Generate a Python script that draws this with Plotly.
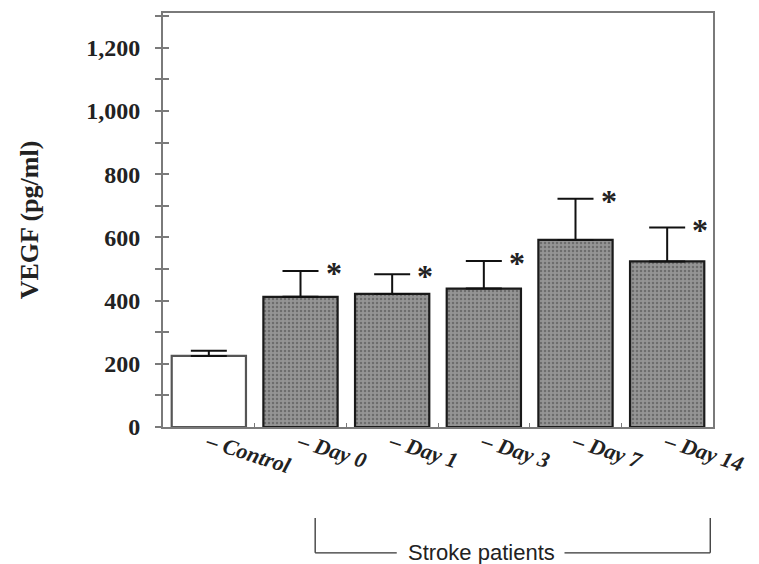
import plotly.graph_objects as go

# ---------- data ----------
groups = ["Control", "Day 0", "Day 1", "Day 3", "Day 7", "Day 14"]
vegf_mean = [225, 412, 421, 438, 592, 524]
vegf_sd = [16, 82, 62, 87, 130, 107]
significant = [False, True, True, True, True, True]
y_ticks = [0, 200, 400, 600, 800, 1000, 1200]

SERIF = "Liberation Serif"
SANS = "Liberation Sans"
AXIS_GRAY = "#7a7a7a"

fill = ["white" if g == "Control" else "#959595" for g in groups]
pattern = ["" if g == "Control" else "." for g in groups]
edge = ["#555555" if g == "Control" else "#1a1a1a" for g in groups]

fig = go.Figure()
fig.add_trace(go.Bar(
    x=groups, y=vegf_mean,
    marker=dict(color=fill,
                line=dict(color=edge, width=2.2),
                pattern=dict(shape=pattern, fgcolor="#b9b9b9", size=4, solidity=0.3)),
    error_y=dict(type="data", array=vegf_sd, arrayminus=[0] * len(groups),
                 symmetric=False, color="#111111", thickness=2, width=18),
    showlegend=False,
))

# asterisks above the error bars
for g, m, s, sig in zip(groups, vegf_mean, vegf_sd, significant):
    if sig:
        fig.add_annotation(x=g, y=m + s, text="<b>*</b>", showarrow=False,
                           xshift=33, yshift=-2, yanchor="middle",
                           font=dict(family=SERIF, size=32, color="#222"))

# "Stroke patients" bracket
br = dict(color="#333", width=1.3)
fig.add_shape(type="line", xref="x", yref="paper", x0=1.16, x1=1.16, y0=-0.22, y1=-0.304, line=br)
fig.add_shape(type="line", xref="x", yref="paper", x0=5.47, x1=5.47, y0=-0.22, y1=-0.304, line=br)
fig.add_shape(type="line", xref="x", yref="paper", x0=1.16, x1=2.05, y0=-0.304, y1=-0.304, line=br)
fig.add_shape(type="line", xref="x", yref="paper", x0=3.88, x1=5.47, y0=-0.304, y1=-0.304, line=br)
fig.add_annotation(x=2.97, y=-0.304, xref="x", yref="paper", text="Stroke patients",
                   showarrow=False, yanchor="middle",
                   font=dict(family=SANS, size=22, color="#222"))

fig.update_layout(
    width=759, height=564,
    margin=dict(l=163, r=46, t=13, b=137),
    paper_bgcolor="white", plot_bgcolor="white",
    bargap=0.19,
    xaxis=dict(
        type="category", range=[-0.5, 5.5], automargin=False,
        showline=True, linecolor=AXIS_GRAY, linewidth=2, mirror=True,
        ticks="inside", tickson="boundaries", ticklen=4, tickcolor=AXIS_GRAY,
        tickangle=18,
        tickvals=groups, ticktext=["– " + g for g in groups],
        tickfont=dict(family=SERIF, size=22, color="#222", style="italic", weight="bold"),
        ticklabelstandoff=-8,
        showgrid=False,
    ),
    yaxis=dict(
        range=[0, 1310], automargin=False,
        showline=True, linecolor=AXIS_GRAY, linewidth=2, mirror=True,
        tickvals=y_ticks, tickformat=",",
        ticks="outside", ticklen=6, tickwidth=2, tickcolor=AXIS_GRAY,
        minor=dict(dtick=100, ticks="outside", ticklen=6, tickwidth=2, tickcolor=AXIS_GRAY),
        tickfont=dict(family=SERIF, size=24, color="#222", weight="bold"),
        ticklabelstandoff=10,
        showgrid=False, zeroline=False,
        title=dict(text="VEGF (pg/ml)", standoff=40,
                   font=dict(family=SERIF, size=26, color="#222", weight="bold")),
    ),
    yaxis2=dict(
        range=[0, 1310], overlaying="y", side="left", automargin=False,
        dtick=100, ticks="inside", ticklen=6, tickwidth=2, tickcolor=AXIS_GRAY,
        showticklabels=False, showgrid=False, zeroline=False, showline=False,
    ),
)
# invisible trace to bind yaxis2
fig.add_trace(go.Scatter(x=[groups[0]], y=[0], yaxis="y2", mode="markers",
                         marker=dict(opacity=0), showlegend=False, hoverinfo="skip"))

# drop the browser's default body margin so the figure sits at the page corner
fig.write_html("out.html", config={"displayModeBar": False},
               post_script="document.body.style.margin='0';")
